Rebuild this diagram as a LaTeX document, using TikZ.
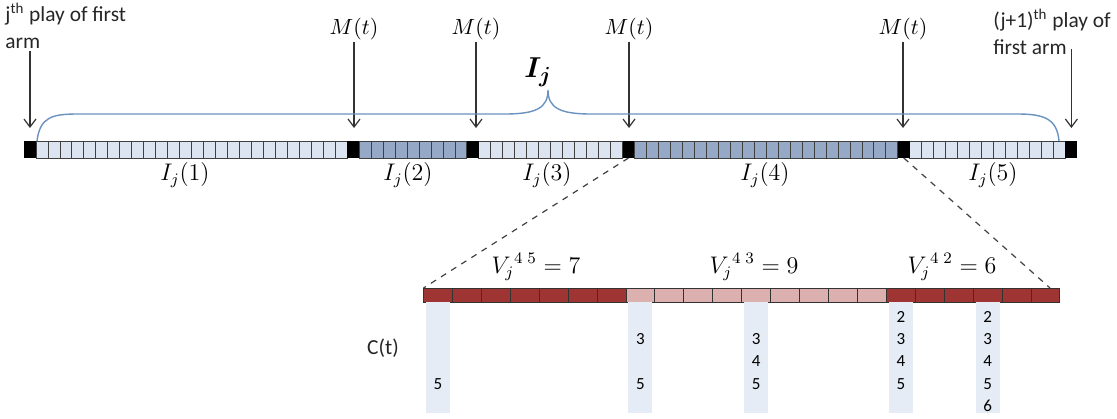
\documentclass[tikz,border=0pt]{standalone}
\usepackage{amsmath,amssymb}
\usepackage{bm}
\usepackage[no-math]{fontspec}
\usetikzlibrary{arrows.meta}
\newfontfamily\labelfont{Carlito}
\definecolor{cellblue}{HTML}{DCE4F2}
\definecolor{cellsteel}{HTML}{95A8C6}
\definecolor{cellred}{HTML}{9E3533}
\definecolor{cellpink}{HTML}{DDB0B0}
\definecolor{colshade}{HTML}{E6ECF5}
\definecolor{bracecol}{HTML}{6A92C0}

\begin{document}
\begin{tikzpicture}[x=0.5pt, y=-0.5pt, >={Straight Barb[length=4pt,width=6pt]},
  cellbox/.style={draw=black!75, line width=0.4pt},
  redbox/.style={draw=black!80, line width=0.5pt},
  armlbl/.style={font=\labelfont\fontsize{10.7}{13.5}\selectfont, text=black!85, inner sep=1pt},
  mathlbl/.style={font=\fontsize{11}{13}\selectfont, inner sep=1pt},
  seglbl/.style={font=\fontsize{12}{14}\selectfont},
  numlbl/.style={font=\labelfont\fontsize{8.5}{9}\selectfont, inner sep=0pt},
  pointer/.style={->, black!80, line width=0.6pt, shorten >=6.5pt}]
\useasboundingbox (0,0) rectangle (1117,418);

% ===== TOP bar (I_j) =====
% one unit = one play, 88 units from x=24
\def\u{11.97}
\foreach \a/\b/\c in {1/26/cellblue, 28/36/cellsteel, 38/49/cellblue, 51/72/cellsteel, 74/86/cellblue}
  \foreach \k in {\a,...,\b}
    \draw[cellbox, fill=\c] ({24+\k*\u},141) rectangle ({24+(\k+1)*\u},158);
% black blocks = plays of M(t) / first arm
\foreach \k [count=\i from 0] in {0,27,37,50,73,87} {
  \fill ({24+\k*\u},141) rectangle ({24+(\k+1)*\u},158);
  \coordinate (b\i) at ({24+(\k+0.5)*\u},141);
  \coordinate (c\i) at ({24+(\k+0.5)*\u},158);
}

% Labels above the bar
\node[armlbl, anchor=north west, align=left] (first) at (3,1) {j\textsuperscript{th} play of first\\arm};
\node[armlbl, anchor=north west, align=left] (next) at (991,7) {(j+1)\textsuperscript{th} play of\\first arm};
\node[mathlbl] (m1) at (354,29) {$M(t)$};
\node[mathlbl] (m2) at (476,29) {$M(t)$};
\node[mathlbl] (m3) at (629,29) {$M(t)$};
\node[mathlbl] (m4) at (903,29) {$M(t)$};

% Arrows down to the black blocks
\draw[pointer] (first.south -| b0) -- (b0);
\draw[pointer] (m1) -- (m1 |- b1);
\draw[pointer] (m2) -- (m2 |- b2);
\draw[pointer] (m3) -- (m3 |- b3);
\draw[pointer] (m4) -- (m4 |- b4);
\draw[pointer] ([yshift=4pt]next.south -| b5) -- (b5);

% Brace over the whole interval
\draw[bracecol, line width=0.7pt] (37,141) .. controls (40,117) and (52,114) .. (78,114)
  -- (505,114) .. controls (536,114) and (548,108) .. (548,90)
  .. controls (548,108) and (560,114) .. (591,114)
  -- (1018,114) .. controls (1046,114) and (1057,120) .. (1059,141);
\node[font=\fontsize{15}{18}\selectfont] (Ij) at (538,72) {$\bm{I_j}$};

% Sub-interval labels
\foreach \x/\n in {185/1, 408/2, 547/3, 765/4, 993/5}
  \node[seglbl] (s\n) at (\x,175) {$I_j(\n)$};

% ===== BOTTOM bar (zoom of I_j(4)) =====
\def\w{28.93}
\foreach \a/\b/\c in {0/6/cellred, 7/15/cellpink, 16/21/cellred}
  \foreach \k in {\a,...,\b}
    \draw[redbox, fill=\c] ({423.5+\k*\w},288) rectangle ({423.5+(\k+1)*\w},302);
\coordinate (z0) at (423.5,288);
\coordinate (z1) at (1050,288);

% Dashed zoom lines
\draw[dashed, black!75, line width=0.6pt] (c3) -- (z0);
\draw[dashed, black!75, line width=0.6pt] (c4) -- (z1);

% Run lengths
\node[seglbl] (v1) at (536,267) {${V_j}^{4\;5} = 7$};
\node[seglbl] (v2) at (754,267) {${V_j}^{4\;3} = 9$};
\node[seglbl] (v3) at (952,267) {${V_j}^{4\;2} = 6$};

% C(t) columns
\node[armlbl] (ct) at (383,348) {C(t)};
\foreach \k in {0,7,11,16,19}
  \fill[colshade] ({423.5+(\k+0.5)*\w-12},302) rectangle ({423.5+(\k+0.5)*\w+12},413);
\foreach \k/\list in {0/{5}, 7/{3,5}, 11/{3,4,5}, 16/{2,3,4,5}, 19/{2,3,4,5,6}}
  \foreach \n in \list
    \node[numlbl] (n\k-\n) at ({423.5+(\k+0.5)*\w},{317+(\n-2)*22.2}) {\n};
\end{tikzpicture}
\end{document}
